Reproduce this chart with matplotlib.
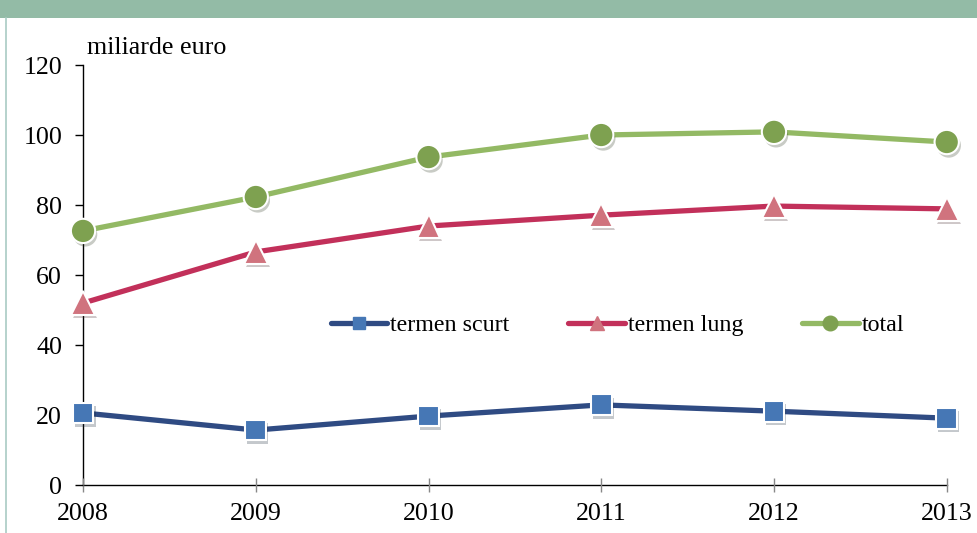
import matplotlib.pyplot as plt
import matplotlib.patheffects as pe
from matplotlib.patches import Rectangle
from matplotlib.lines import Line2D

years = [2008, 2009, 2010, 2011, 2012, 2013]
termen_scurt = [20.6, 15.7, 19.7, 22.9, 21.1, 19.1]
termen_lung = [52.0, 66.6, 74.0, 77.1, 79.7, 78.9]
total = [72.6, 82.3, 93.7, 100.0, 100.9, 98.0]

plt.rcParams['font.family'] = ['Liberation Serif', 'DejaVu Serif']
fs = 18.7
fs_leg = 17.3

fig = plt.figure(figsize=(9.77, 5.33), dpi=100)
ax = fig.add_axes([0.085, 0.090, 0.884, 0.788])

# header band and left border
fig.patches.append(Rectangle((0, 1 - 18 / 533), 1, 18 / 533, transform=fig.transFigure,
                             facecolor='#93bba6', edgecolor='none', zorder=0))
fig.lines.append(Line2D([6 / 977, 6 / 977], [0, 1 - 18 / 533], transform=fig.transFigure,
                        color='#a9cbc4', linewidth=1.2))

shadow = [pe.SimplePatchShadow(offset=(1.5, -2.5), alpha=0.25), pe.Normal()]

series = [
    (termen_scurt, 'termen scurt', '#2f4b83', 's', '#4677b5', 15),
    (termen_lung, 'termen lung', '#c2305a', '^', '#d0737e', 17),
    (total, 'total', '#93b964', 'o', '#7ea150', 17.5),
]
handles = []
for vals, label, lc, mk, mc, ms in series:
    ax.plot(years, vals, color=lc, linewidth=3.8, solid_capstyle='round', zorder=2,
            clip_on=False)
    ax.plot(years, vals, linestyle='none', marker=mk, markersize=ms,
            markerfacecolor=mc, markeredgecolor='white', markeredgewidth=1.5,
            path_effects=shadow, zorder=3, clip_on=False)
    handles.append(Line2D([], [], color=lc, linewidth=3.8, solid_capstyle='round',
                          marker=mk, markersize=ms * 0.6, markerfacecolor=mc,
                          markeredgecolor=mc, label=label))

ax.set_xlim(2008, 2013)
ax.set_ylim(0, 120)
ax.set_yticks(range(0, 121, 20))
ax.set_xticks(years)
for side in ['top', 'right']:
    ax.spines[side].set_visible(False)
for side in ['left', 'bottom']:
    ax.spines[side].set_linewidth(1.0)
    ax.spines[side].set_color('black')
    ax.spines[side].set_zorder(1)
ax.tick_params(axis='y', direction='out', length=6, width=1, labelsize=fs, pad=9)
ax.tick_params(axis='x', direction='inout', length=10, width=1, color='#888888',
               labelsize=fs, pad=8)
for lbl in ax.get_xticklabels():
    lbl.set_clip_on(False)

fig.text(87 / 977, 1 - 48 / 533, 'miliarde euro', fontsize=fs, va='center', ha='left')

ax.legend(handles=handles, loc='center left', bbox_to_anchor=(331 / 977, 1 - 325 / 533),
          bbox_transform=fig.transFigure, ncol=3, frameon=False, fontsize=fs_leg,
          handlelength=2.35, handletextpad=0.12, columnspacing=2.45, borderpad=0,
          borderaxespad=0)

fig.savefig('out.png', dpi=100)
